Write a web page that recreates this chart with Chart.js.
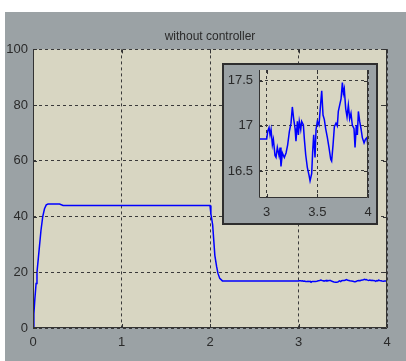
<!DOCTYPE html>
<html>
<head>
<meta charset="utf-8">
<script src="https://cdn.jsdelivr.net/npm/chart.js@4.4.0/dist/chart.umd.min.js"></script>
<style>
html, body { margin: 0; padding: 0; background: #fff; }
#wrap { position: relative; width: 406px; height: 361px; overflow: hidden; }
#main { position: absolute; left: 5px; top: 12px; background: #9ba2a5; }
#insetBox { position: absolute; left: 222px; top: 63px; width: 156px; height: 162px;
  box-sizing: border-box; border: 2px solid #2e2e2e; background: #9ba2a5; }
#inset { position: absolute; left: 0; top: 0; }
</style>
</head>
<body>
<div id="wrap">
  <canvas id="main" width="401" height="349"></canvas>
  <div id="insetBox"><canvas id="inset" width="152" height="158"></canvas></div>
</div>
<script>
// step response, 0 .. 2.9 s
var stepT = [0, 0.01, 0.02, 0.035, 0.045, 0.06, 0.075, 0.09, 0.11, 0.13, 0.15, 0.17, 0.3, 0.34,
             2.0, 2.01, 2.03, 2.055, 2.075, 2.09, 2.11, 2.14, 2.5, 2.9]
var stepV = [0, 5, 10, 16, 20, 25, 30, 35, 40, 42.8, 44.2, 44.5, 44.5, 44.0,
             44.0, 41, 37, 26, 22, 19.6, 17.8, 16.9, 16.85, 16.85]

// zoomed part, 2.92 .. 4 s
var zoomT = [2.918, 3.0, 3.01, 3.023, 3.033, 3.043, 3.056, 3.066, 3.082, 3.092,
             3.105, 3.122, 3.132, 3.141, 3.155, 3.174, 3.191, 3.207, 3.224, 3.240,
             3.253, 3.266, 3.280, 3.289, 3.303, 3.313, 3.322, 3.336, 3.345, 3.362,
             3.372, 3.385, 3.401, 3.418, 3.428, 3.444, 3.454, 3.464, 3.477, 3.487,
             3.5, 3.516, 3.533, 3.543, 3.556, 3.569, 3.582, 3.599, 3.615, 3.632,
             3.641, 3.655, 3.668, 3.684, 3.697, 3.707, 3.724, 3.734, 3.747, 3.757,
             3.766, 3.780, 3.793, 3.806, 3.819, 3.832, 3.845, 3.862, 3.872, 3.885,
             3.895, 3.905, 3.918, 3.931, 3.944, 3.961, 3.974, 3.990, 4.0]
var zoomV = [16.855, 16.855, 16.94, 16.98, 16.90, 16.96, 16.79, 16.85, 16.67, 16.65,
             16.76, 16.67, 16.76, 16.55, 16.70, 16.65, 16.70, 16.79, 16.94, 17.03,
             17.21, 17.08, 16.97, 16.83, 17.05, 16.90, 17.05, 16.96, 17.05, 17.01,
             16.85, 16.68, 16.54, 16.45, 16.39, 16.47, 16.72, 16.90, 16.65, 16.96,
             17.05, 17.01, 17.25, 17.39, 17.12, 17.07, 16.97, 16.87, 16.76, 16.63,
             16.61, 16.79, 16.99, 17.03, 17.00, 17.16, 17.25, 17.30, 17.48, 17.36,
             17.41, 17.19, 17.10, 17.23, 17.08, 17.14, 17.01, 16.97, 16.76, 17.01,
             16.90, 17.16, 17.05, 16.97, 16.87, 16.81, 16.85, 16.87, 16.76]

var mainXTicks = [0, 1, 2, 3, 4]
var mainYTicks = [0, 20, 40, 60, 80, 100]
var insetXTicks = [3, 3.5, 4]
var insetYTicks = [16.5, 17, 17.5]

var titleText = 'without controller'
var fontFam = '"Liberation Sans", Arial, sans-serif'
var textCol = '#2a2a2a'

function toPoints(xs, ys) {
    return xs.map(function (x, i) { return { x: x, y: ys[i] } })
}

// beige axes background, solid box and inward ticks like the matlab figure
var framePlugin = {
    id: 'frame',
    beforeDraw: function (chart) {
        var ctx = chart.ctx, a = chart.chartArea
        ctx.save()
        ctx.fillStyle = '#d8d6c2'
        ctx.fillRect(a.left, a.top, a.right - a.left, a.bottom - a.top)
        ctx.restore()
    },
    afterDraw: function (chart) {
        var ctx = chart.ctx, a = chart.chartArea
        var sx = chart.scales.x, sy = chart.scales.y
        ctx.save()
        ctx.strokeStyle = '#333'
        ctx.lineWidth = 1
        ctx.beginPath()
        ctx.moveTo(a.left + 0.5, a.top)
        ctx.lineTo(a.left + 0.5, a.bottom - 0.5)
        ctx.lineTo(a.right - 0.5, a.bottom - 0.5)
        ctx.lineTo(a.right - 0.5, a.top)
        sx.ticks.forEach(function (t) {
            var p = Math.round(sx.getPixelForValue(t.value)) + 0.5
            ctx.moveTo(p, a.bottom); ctx.lineTo(p, a.bottom - 4)
            ctx.moveTo(p, a.top); ctx.lineTo(p, a.top + 4)
        })
        sy.ticks.forEach(function (t) {
            var p = Math.round(sy.getPixelForValue(t.value)) + 0.5
            ctx.moveTo(a.left, p); ctx.lineTo(a.left + 4, p)
            ctx.moveTo(a.right, p); ctx.lineTo(a.right - 4, p)
        })
        ctx.stroke()
        ctx.restore()
    }
}

function axisOpts(min, max, ticks, size, pad, horiz) {
    return {
        type: 'linear',
        min: min,
        max: max,
        afterBuildTicks: function (scale) {
            scale.ticks = ticks.map(function (v) { return { value: v } })
        },
        afterFit: function (scale) {
            if (horiz) scale.height = size
            else scale.width = size
            // chart area is fixed by layout padding, not by label overflow
            scale.paddingTop = 0
            scale.paddingBottom = 0
            scale.paddingLeft = 0
            scale.paddingRight = 0
        },
        grid: { color: '#3a3a3a', lineWidth: 1, drawTicks: false, borderDash: [3, 3] },
        border: { display: false, dash: [3, 3] },
        ticks: {
            padding: pad,
            color: textCol,
            font: { family: fontFam, size: 13 },
            maxRotation: 0,
            autoSkip: false,
            callback: function (v) { return String(v) }
        }
    }
}

new Chart(document.getElementById('main'), {
    type: 'line',
    data: {
        datasets: [{
            data: toPoints(stepT.concat(zoomT), stepV.concat(zoomV)),
            borderColor: '#0000ff',
            borderWidth: 1.5,
            pointRadius: 0,
            tension: 0
        }]
    },
    options: {
        responsive: false,
        animation: false,
        events: [],
        layout: { padding: { left: 0, right: 19, top: 0, bottom: 0 } },
        plugins: {
            legend: { display: false },
            tooltip: { enabled: false },
            title: {
                display: true,
                text: titleText,
                fullSize: false,
                color: textCol,
                font: { family: fontFam, size: 12, weight: 'normal' },
                padding: { top: 17, bottom: 6 }
            }
        },
        scales: {
            x: axisOpts(0, 4, mainXTicks, 33, 7, true),
            y: axisOpts(0, 100, mainYTicks, 28, 5, false)
        }
    },
    plugins: [framePlugin]
})

new Chart(document.getElementById('inset'), {
    type: 'line',
    data: {
        datasets: [{
            data: toPoints(zoomT, zoomV),
            borderColor: '#0000ff',
            borderWidth: 1.5,
            pointRadius: 0,
            tension: 0
        }]
    },
    options: {
        responsive: false,
        animation: false,
        events: [],
        layout: { padding: { left: 0, right: 8, top: 5, bottom: 0 } },
        plugins: {
            legend: { display: false },
            tooltip: { enabled: false }
        },
        scales: {
            x: axisOpts(2.924, 4, insetXTicks, 25, 7, true),
            y: axisOpts(16.2, 17.62, insetYTicks, 35, 6, false)
        }
    },
    plugins: [framePlugin]
})
</script>
</body>
</html>
